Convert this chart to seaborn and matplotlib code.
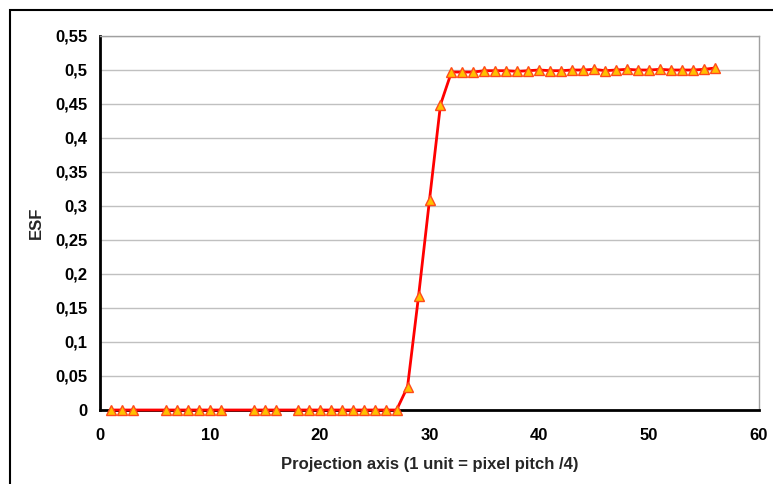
import numpy as np
import pandas as pd
import matplotlib
matplotlib.use("Agg")
import matplotlib.pyplot as plt
import seaborn as sns
from matplotlib.patches import Rectangle
from matplotlib.ticker import FuncFormatter

# Projection axis positions (1 unit = pixel pitch / 4)
x_low = [1, 2, 3, 6, 7, 8, 9, 10, 11, 14, 15, 16,
         18, 19, 20, 21, 22, 23, 24, 25, 26, 27]
esf_low = [0.0] * len(x_low)

x_edge = [28, 29, 30, 31]
esf_edge = [0.034, 0.167, 0.309, 0.449]

x_high = list(range(32, 57))
esf_high = [0.497, 0.497, 0.497, 0.499, 0.499, 0.499, 0.498, 0.499, 0.500,
            0.499, 0.499, 0.500, 0.500, 0.501, 0.499, 0.500, 0.501, 0.500,
            0.500, 0.501, 0.500, 0.500, 0.500, 0.501, 0.503]

y_ticks = [0, 0.05, 0.1, 0.15, 0.2, 0.25, 0.3, 0.35, 0.4, 0.45, 0.5, 0.55]
x_ticks = [0, 10, 20, 30, 40, 50, 60]


def main():
    df = pd.DataFrame({
        "x": x_low + x_edge + x_high,
        "ESF": esf_low + esf_edge + esf_high,
    })

    sns.set_style("white")
    plt.rcParams["font.family"] = ["Liberation Sans", "DejaVu Sans"]
    plt.rcParams["font.weight"] = "bold"
    plt.rcParams["axes.labelweight"] = "bold"

    fig = plt.figure(figsize=(7.73, 4.84), dpi=100)
    ax = fig.add_axes([100 / 773, 74 / 484, 659 / 773, 374 / 484])

    sns.lineplot(data=df, x="x", y="ESF", ax=ax, color="#FF0000", lw=2,
                 marker="^", markersize=7, markerfacecolor="#FFC000",
                 markeredgecolor="#FF4A1A", markeredgewidth=1, clip_on=False,
                 zorder=5)

    ax.set_xlim(0, 60)
    ax.set_ylim(0, 0.55)
    ax.set_xticks(x_ticks)
    ax.set_yticks(y_ticks)
    ax.yaxis.set_major_formatter(
        FuncFormatter(lambda v, p: ("%g" % round(v, 2)).replace(".", ",")))
    ax.grid(axis="y", color="#C0C0C0", lw=1)
    ax.set_axisbelow(True)

    for s in ["left", "bottom"]:
        ax.spines[s].set_color("black")
        ax.spines[s].set_linewidth(2)
    for s in ["top", "right"]:
        ax.spines[s].set_color("#A0A0A0")
        ax.spines[s].set_linewidth(1)

    ax.tick_params(axis="both", direction="out", length=5, width=2,
                   labelsize=12, colors="black", pad=4)
    ax.tick_params(axis="x", pad=8)
    ax.set_xlabel("Projection axis (1 unit = pixel pitch /4)",
                  fontsize=12, fontweight="bold", labelpad=10)
    ax.set_ylabel("ESF", fontsize=12, fontweight="bold", labelpad=8)

    # outer chart frame
    fig.patches.append(Rectangle((10 / 773, -0.2), 1.2, 0.2 + 1 - 10 / 484,
                                 transform=fig.transFigure, fill=False,
                                 edgecolor="black", lw=1.5))

    fig.savefig("out.png", dpi=100)


if __name__ == "__main__":
    main()
